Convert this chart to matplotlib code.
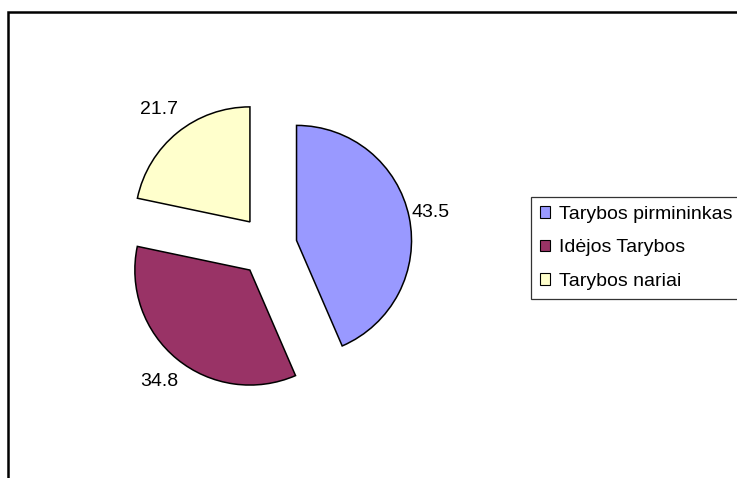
import matplotlib
matplotlib.use('Agg')
import matplotlib.pyplot as plt
import matplotlib.patches as patches
import numpy as np

plt.rcParams['font.family'] = ['Liberation Sans', 'DejaVu Sans']

# data
categories = ['Tarybos pirmininkas', 'Idėjos Tarybos', 'Tarybos nariai']
values = [43.5, 34.8, 21.7]
colors = ['#9999FF', '#993366', '#FFFFCC']

W, H = 737, 478
fig = plt.figure(figsize=(W / 100, H / 100), dpi=100)

# pie geometry in pixels (unit radius = R px)
R = 115.0
cx, cy = 269.5, 246.0
ax = fig.add_axes([0, 0, 1, 1])

wedges, texts, autotexts = ax.pie(
    values, colors=colors, startangle=90, counterclock=False,
    explode=[0.24, 0.27, 0.27], radius=1.0,
    autopct='%.1f', pctdistance=1.22,
    wedgeprops=dict(edgecolor='black', linewidth=1.1),
    textprops=dict(fontsize=14, color='black'))

# push the value labels out along each slice's middle angle
label_dist = [1.19, 1.25, 1.26]
for w, t, d in zip(wedges, autotexts, label_dist):
    mid = np.deg2rad((w.theta1 + w.theta2) / 2)
    t.set_position((w.center[0] + d * np.cos(mid), w.center[1] + d * np.sin(mid)))

ax.set_xlim(-cx / R, (W - cx) / R)
ax.set_ylim(-(H - cy) / R, cy / R)
ax.set_aspect('auto')
ax.axis('off')

# legend box on the right, running off the edge
leg = fig.legend(wedges, categories, loc='upper left',
                 bbox_to_anchor=(531 / W, 1 - 197 / H), borderaxespad=0,
                 fontsize=14, frameon=True, fancybox=False,
                 handlelength=0.55, handleheight=0.55, handletextpad=0.45,
                 labelspacing=0.85, borderpad=0.45)
leg.get_frame().set_edgecolor('black')
leg.get_frame().set_linewidth(0.9)
for h in leg.legend_handles:
    h.set_linewidth(0.8)

# chart area border (continues past right and bottom edges)
fig.patches.append(patches.Rectangle(
    (8 / W, -0.2), 1.5, (1 - 12 / H) + 0.2, transform=fig.transFigure,
    fill=False, edgecolor='black', linewidth=1.8))

fig.savefig('out.png', dpi=100)
